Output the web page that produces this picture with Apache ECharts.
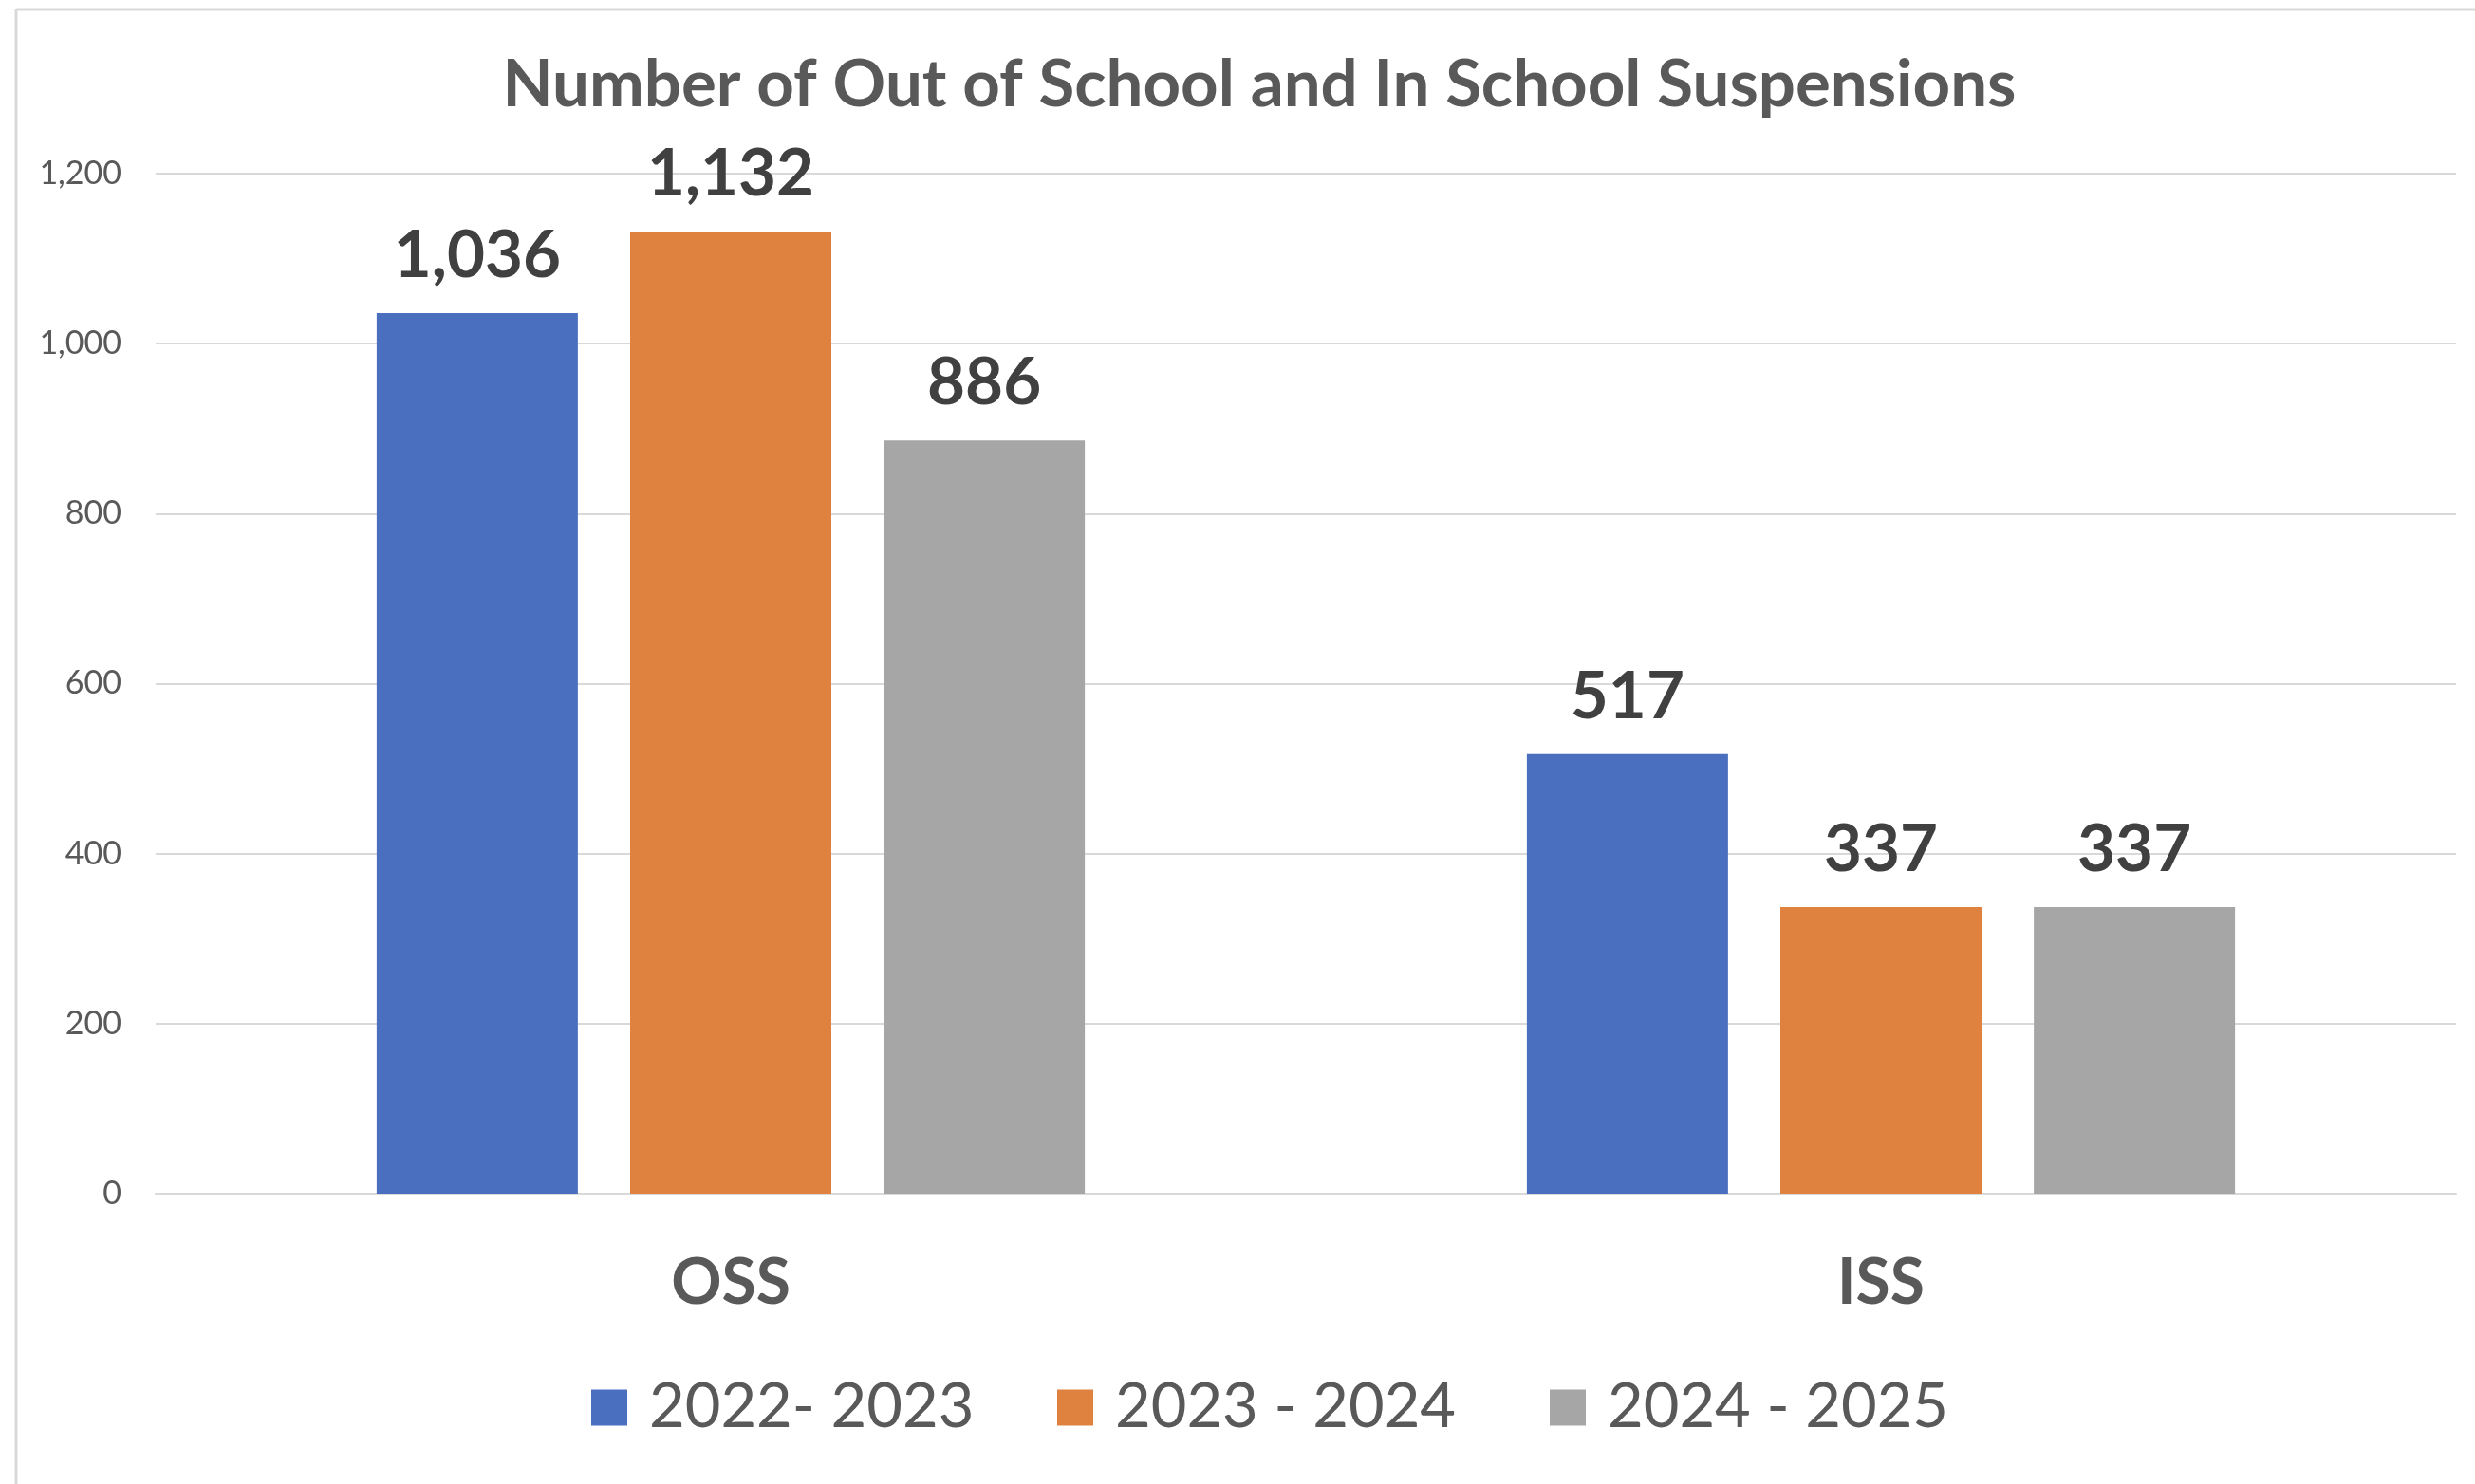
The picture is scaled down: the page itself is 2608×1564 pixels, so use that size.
<!DOCTYPE html>
<html>
<head>
<meta charset="utf-8">
<script src="https://cdn.jsdelivr.net/npm/echarts@6/dist/echarts.min.js"></script>
<style>
html,body{margin:0;padding:0;background:#fff;}
#chart{width:2608px;height:1564px;}
</style>
</head>
<body>
<div id="chart"></div>
<script>
const titleText = 'Number of Out of School and In School Suspensions';
const categories = ['OSS', 'ISS'];
const seriesNames = ['2022- 2023', '2023 - 2024', '2024 - 2025'];
const values2022 = [1036, 517];
const values2023 = [1132, 337];
const values2024 = [886, 337];
const seriesColors = ['#4A6FBF', '#DF823F', '#A6A6A6'];
const yTicks = [0, 200, 400, 600, 800, 1000, 1200];

const allValues = [values2022, values2023, values2024];
const FONT = 'Lato, "Open Sans", sans-serif';
const chart = echarts.init(document.getElementById('chart'));

const legendLefts = [618, 1109, 1628];

chart.setOption({
  backgroundColor: '#ffffff',
  animation: false,
  title: {
    text: titleText,
    left: 1322, top: 50,
    textAlign: 'center',
    textStyle: { fontFamily: FONT, fontWeight: 'bold', fontSize: 69, color: '#595959' }
  },
  legend: seriesNames.map((n, i) => ({
    data: [n],
    left: legendLefts[i], top: 1446,
    itemWidth: 38, itemHeight: 38,
    icon: 'rect',
    textStyle: { fontFamily: FONT, fontSize: 65, color: '#595959', padding: [0, 0, 0, 18] }
  })),
  grid: { left: 164, right: 20, top: 183, bottom: 306, containLabel: false },
  xAxis: {
    type: 'category',
    data: categories,
    axisLine: { lineStyle: { color: '#D9D9D9', width: 2 } },
    axisTick: { show: false },
    axisLabel: { fontFamily: FONT, fontWeight: 'bold', fontSize: 66, color: '#595959', margin: 62 }
  },
  yAxis: {
    type: 'value',
    min: yTicks[0], max: yTicks[yTicks.length - 1], interval: 200,
    axisLine: { show: false },
    axisTick: { show: false },
    splitLine: { lineStyle: { color: '#D9D9D9', width: 2 } },
    axisLabel: {
      fontFamily: FONT, fontSize: 34, color: '#595959', margin: 36,
      formatter: v => v.toLocaleString('en-US')
    }
  },
  series: seriesNames.map((n, i) => ({
    name: n,
    type: 'bar',
    data: allValues[i],
    barWidth: 212,
    barGap: '26%',
    itemStyle: { color: seriesColors[i] },
    label: {
      show: true, position: 'top', distance: 26,
      fontFamily: FONT, fontWeight: 'bold', fontSize: 69, color: '#404040',
      formatter: p => p.value.toLocaleString('en-US')
    }
  })),
  graphic: [
    { type: 'line', shape: { x1: 17, y1: 10, x2: 17, y2: 1564 }, style: { stroke: '#D9D9D9', lineWidth: 3 } },
    { type: 'line', shape: { x1: 17, y1: 10, x2: 2608, y2: 10 }, style: { stroke: '#D9D9D9', lineWidth: 3 } }
  ]
});
</script>
</body>
</html>
